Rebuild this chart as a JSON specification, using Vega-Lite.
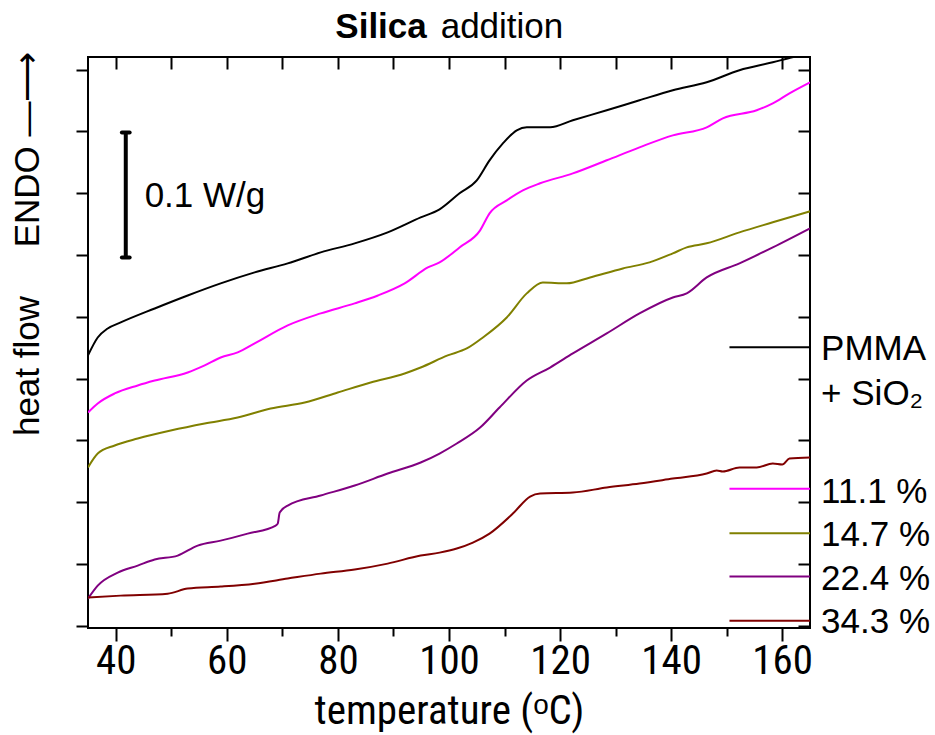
{
  "$schema": "https://vega.github.io/schema/vega-lite/v6.json",
  "autosize": "none",
  "width": 722,
  "height": 571,
  "padding": {"left": 88, "top": 57, "right": 125, "bottom": 107},
  "background": "white",
  "config": {"view": {"stroke": "black", "strokeWidth": 2}},
  "datasets": {
    "curves": [
      {"s": "PMMA", "T": 35.0, "hf": 0.2187}, {"s": "PMMA", "T": 36.75, "hf": 0.2332}, {"s": "PMMA", "T": 38.55, "hf": 0.2405}, {"s": "PMMA", "T": 40.89, "hf": 0.2454}, {"s": "PMMA", "T": 47.01, "hf": 0.2567}, {"s": "PMMA", "T": 52.95, "hf": 0.2672}, {"s": "PMMA", "T": 58.89, "hf": 0.2770}, {"s": "PMMA", "T": 65.01, "hf": 0.2859}, {"s": "PMMA", "T": 70.96, "hf": 0.2932}, {"s": "PMMA", "T": 76.9, "hf": 0.3021}, {"s": "PMMA", "T": 83.02, "hf": 0.3094}, {"s": "PMMA", "T": 88.96, "hf": 0.3183}, {"s": "PMMA", "T": 94.9, "hf": 0.3304}, {"s": "PMMA", "T": 98.3, "hf": 0.3369}, {"s": "PMMA", "T": 101.9, "hf": 0.3499}, {"s": "PMMA", "T": 105.0, "hf": 0.3604}, {"s": "PMMA", "T": 107.3, "hf": 0.3766}, {"s": "PMMA", "T": 109.7, "hf": 0.3903}, {"s": "PMMA", "T": 112.2, "hf": 0.4009}, {"s": "PMMA", "T": 114.0, "hf": 0.4033}, {"s": "PMMA", "T": 118.2, "hf": 0.4033}, {"s": "PMMA", "T": 122.3, "hf": 0.4090}, {"s": "PMMA", "T": 128.4, "hf": 0.4171}, {"s": "PMMA", "T": 134.3, "hf": 0.4252}, {"s": "PMMA", "T": 140.3, "hf": 0.4333}, {"s": "PMMA", "T": 146.4, "hf": 0.4397}, {"s": "PMMA", "T": 152.3, "hf": 0.4495}, {"s": "PMMA", "T": 158.3, "hf": 0.4559}, {"s": "PMMA", "T": 161.8, "hf": 0.4600}, {"s": "PMMA", "T": 165.0, "hf": 0.4632},
      {"s": "11.1 %", "T": 35.0, "hf": 0.1725}, {"s": "11.1 %", "T": 36.75, "hf": 0.1798}, {"s": "11.1 %", "T": 39.81, "hf": 0.1879}, {"s": "11.1 %", "T": 43.95, "hf": 0.1944}, {"s": "11.1 %", "T": 47.01, "hf": 0.1984}, {"s": "11.1 %", "T": 52.95, "hf": 0.2049}, {"s": "11.1 %", "T": 56.01, "hf": 0.2106}, {"s": "11.1 %", "T": 58.89, "hf": 0.2170}, {"s": "11.1 %", "T": 61.95, "hf": 0.2211}, {"s": "11.1 %", "T": 65.01, "hf": 0.2284}, {"s": "11.1 %", "T": 70.96, "hf": 0.2430}, {"s": "11.1 %", "T": 76.9, "hf": 0.2527}, {"s": "11.1 %", "T": 83.02, "hf": 0.2608}, {"s": "11.1 %", "T": 87.2, "hf": 0.2672}, {"s": "11.1 %", "T": 92.02, "hf": 0.2770}, {"s": "11.1 %", "T": 96.2, "hf": 0.2899}, {"s": "11.1 %", "T": 98.3, "hf": 0.2940}, {"s": "11.1 %", "T": 101.9, "hf": 0.3061}, {"s": "11.1 %", "T": 105.6, "hf": 0.3199}, {"s": "11.1 %", "T": 107.3, "hf": 0.3337}, {"s": "11.1 %", "T": 110.4, "hf": 0.3442}, {"s": "11.1 %", "T": 113.3, "hf": 0.3523}, {"s": "11.1 %", "T": 116.4, "hf": 0.3580}, {"s": "11.1 %", "T": 122.3, "hf": 0.3660}, {"s": "11.1 %", "T": 128.4, "hf": 0.3766}, {"s": "11.1 %", "T": 134.3, "hf": 0.3871}, {"s": "11.1 %", "T": 140.3, "hf": 0.3968}, {"s": "11.1 %", "T": 146.4, "hf": 0.4033}, {"s": "11.1 %", "T": 149.3, "hf": 0.4106}, {"s": "11.1 %", "T": 155.4, "hf": 0.4171}, {"s": "11.1 %", "T": 158.3, "hf": 0.4227}, {"s": "11.1 %", "T": 161.3, "hf": 0.4308}, {"s": "11.1 %", "T": 165.0, "hf": 0.4397},
      {"s": "14.7 %", "T": 35.0, "hf": 0.1280}, {"s": "14.7 %", "T": 36.75, "hf": 0.1393}, {"s": "14.7 %", "T": 39.81, "hf": 0.1458}, {"s": "14.7 %", "T": 43.95, "hf": 0.1514}, {"s": "14.7 %", "T": 49.89, "hf": 0.1579}, {"s": "14.7 %", "T": 56.01, "hf": 0.1636}, {"s": "14.7 %", "T": 61.95, "hf": 0.1684}, {"s": "14.7 %", "T": 67.89, "hf": 0.1757}, {"s": "14.7 %", "T": 74.02, "hf": 0.1806}, {"s": "14.7 %", "T": 79.96, "hf": 0.1887}, {"s": "14.7 %", "T": 85.9, "hf": 0.1968}, {"s": "14.7 %", "T": 92.02, "hf": 0.2041}, {"s": "14.7 %", "T": 94.9, "hf": 0.2089}, {"s": "14.7 %", "T": 99.76, "hf": 0.2187}, {"s": "14.7 %", "T": 103.2, "hf": 0.2243}, {"s": "14.7 %", "T": 106.1, "hf": 0.2332}, {"s": "14.7 %", "T": 110.4, "hf": 0.2494}, {"s": "14.7 %", "T": 114.0, "hf": 0.2689}, {"s": "14.7 %", "T": 116.9, "hf": 0.2778}, {"s": "14.7 %", "T": 121.2, "hf": 0.2770}, {"s": "14.7 %", "T": 125.4, "hf": 0.2818}, {"s": "14.7 %", "T": 131.3, "hf": 0.2891}, {"s": "14.7 %", "T": 136.1, "hf": 0.2940}, {"s": "14.7 %", "T": 140.3, "hf": 0.3013}, {"s": "14.7 %", "T": 142.8, "hf": 0.3061}, {"s": "14.7 %", "T": 146.4, "hf": 0.3094}, {"s": "14.7 %", "T": 152.3, "hf": 0.3183}, {"s": "14.7 %", "T": 158.3, "hf": 0.3264}, {"s": "14.7 %", "T": 165.0, "hf": 0.3353},
      {"s": "22.4 %", "T": 35.0, "hf": 0.0219}, {"s": "22.4 %", "T": 36.75, "hf": 0.0324}, {"s": "22.4 %", "T": 40.35, "hf": 0.0429}, {"s": "22.4 %", "T": 43.95, "hf": 0.0486}, {"s": "22.4 %", "T": 47.01, "hf": 0.0535}, {"s": "22.4 %", "T": 51.15, "hf": 0.0567}, {"s": "22.4 %", "T": 54.75, "hf": 0.0648}, {"s": "22.4 %", "T": 58.89, "hf": 0.0688}, {"s": "22.4 %", "T": 63.75, "hf": 0.0745}, {"s": "22.4 %", "T": 68.8, "hf": 0.0810}, {"s": "22.4 %", "T": 69.16, "hf": 0.0826}, {"s": "22.4 %", "T": 69.52, "hf": 0.0915}, {"s": "22.4 %", "T": 70.96, "hf": 0.0972}, {"s": "22.4 %", "T": 76.9, "hf": 0.1053}, {"s": "22.4 %", "T": 83.02, "hf": 0.1134}, {"s": "22.4 %", "T": 88.96, "hf": 0.1231}, {"s": "22.4 %", "T": 94.9, "hf": 0.1320}, {"s": "22.4 %", "T": 98.3, "hf": 0.1393}, {"s": "22.4 %", "T": 101.4, "hf": 0.1474}, {"s": "22.4 %", "T": 105.6, "hf": 0.1603}, {"s": "22.4 %", "T": 109.1, "hf": 0.1765}, {"s": "22.4 %", "T": 114.0, "hf": 0.1984}, {"s": "22.4 %", "T": 118.2, "hf": 0.2089}, {"s": "22.4 %", "T": 122.3, "hf": 0.2203}, {"s": "22.4 %", "T": 128.4, "hf": 0.2365}, {"s": "22.4 %", "T": 134.3, "hf": 0.2527}, {"s": "22.4 %", "T": 140.3, "hf": 0.2656}, {"s": "22.4 %", "T": 142.8, "hf": 0.2689}, {"s": "22.4 %", "T": 146.4, "hf": 0.2818}, {"s": "22.4 %", "T": 152.3, "hf": 0.2932}, {"s": "22.4 %", "T": 158.3, "hf": 0.3061}, {"s": "22.4 %", "T": 165.0, "hf": 0.3215},
      {"s": "34.3 %", "T": 35.0, "hf": 0.0227}, {"s": "34.3 %", "T": 40.89, "hf": 0.0243}, {"s": "34.3 %", "T": 49.35, "hf": 0.0259}, {"s": "34.3 %", "T": 52.95, "hf": 0.0300}, {"s": "34.3 %", "T": 58.89, "hf": 0.0316}, {"s": "34.3 %", "T": 65.01, "hf": 0.0340}, {"s": "34.3 %", "T": 70.96, "hf": 0.0381}, {"s": "34.3 %", "T": 76.9, "hf": 0.0421}, {"s": "34.3 %", "T": 83.02, "hf": 0.0454}, {"s": "34.3 %", "T": 88.96, "hf": 0.0502}, {"s": "34.3 %", "T": 94.9, "hf": 0.0567}, {"s": "34.3 %", "T": 98.3, "hf": 0.0591}, {"s": "34.3 %", "T": 101.4, "hf": 0.0624}, {"s": "34.3 %", "T": 104.3, "hf": 0.0672}, {"s": "34.3 %", "T": 107.3, "hf": 0.0745}, {"s": "34.3 %", "T": 111.5, "hf": 0.0907}, {"s": "34.3 %", "T": 114.6, "hf": 0.1045}, {"s": "34.3 %", "T": 116.4, "hf": 0.1069}, {"s": "34.3 %", "T": 122.3, "hf": 0.1077}, {"s": "34.3 %", "T": 128.4, "hf": 0.1118}, {"s": "34.3 %", "T": 134.3, "hf": 0.1150}, {"s": "34.3 %", "T": 140.3, "hf": 0.1190}, {"s": "34.3 %", "T": 146.4, "hf": 0.1231}, {"s": "34.3 %", "T": 148.2, "hf": 0.1255}, {"s": "34.3 %", "T": 149.3, "hf": 0.1247}, {"s": "34.3 %", "T": 152.3, "hf": 0.1280}, {"s": "34.3 %", "T": 155.4, "hf": 0.1280}, {"s": "34.3 %", "T": 158.3, "hf": 0.1312}, {"s": "34.3 %", "T": 160.0, "hf": 0.1304}, {"s": "34.3 %", "T": 161.3, "hf": 0.1352}, {"s": "34.3 %", "T": 165.0, "hf": 0.1361}
    ],
    "leg": [
      {"s": "PMMA", "T1": 150.5, "T2": 165, "hf": 0.2254},
      {"s": "11.1 %", "T1": 150.5, "T2": 165, "hf": 0.1107},
      {"s": "14.7 %", "T1": 150.5, "T2": 165, "hf": 0.0747},
      {"s": "22.4 %", "T1": 150.5, "T2": 165, "hf": 0.0397},
      {"s": "34.3 %", "T1": 150.5, "T2": 165, "hf": 0.0040}
    ],
    "labels": [
      {"label": "PMMA", "T": 167.0, "hf": 0.2150},
      {"label": "+ SiO₂", "T": 167.0, "hf": 0.1786},
      {"label": "11.1 %", "T": 167.0, "hf": 0.0992},
      {"label": "14.7 %", "T": 167.0, "hf": 0.0644},
      {"label": "22.4 %", "T": 167.0, "hf": 0.0287},
      {"label": "34.3 %", "T": 167.0, "hf": -0.0061},
      {"label": "0.1 W/g", "T": 45.2, "hf": 0.3385},
      {"label": "addition", "T": 98.5, "hf": 0.4754}
    ],
    "bold": [
      {"label": "Silica", "T": 96.0, "hf": 0.4754}
    ],
    "bar": [
      {"T": 41.8, "lo": 0.298, "hi": 0.399}
    ],
    "caps": [
      {"T1": 41.1, "T2": 42.5, "hf": 0.298},
      {"T1": 41.1, "T2": 42.5, "hf": 0.399}
    ]
  },
  "layer": [
    {
      "data": {"name": "curves"},
      "mark": {"type": "line", "strokeWidth": 2, "clip": true, "interpolate": "monotone"},
      "encoding": {
        "x": {"field": "T", "type": "quantitative", "scale": {"domain": [35, 165], "nice": false, "zero": false},
          "axis": {"orient": "bottom", "values": [40, 50, 60, 70, 80, 90, 100, 110, 120, 130, 140, 150, 160],
            "tickSize": {"condition": {"test": "datum.value % 20 === 0", "value": 13}, "value": 8},
            "labelExpr": "datum.value % 20 === 0 ? datum.label : ''",
            "tickColor": "black", "tickWidth": 2, "domain": false, "grid": false,
            "labelFont": "Roboto Condensed, Liberation Sans", "labelFontSize": 41, "labelColor": "black", "labelPadding": 0, "labelFlush": false, "labelOverlap": false,
            "title": "temperature (ᵒC)", "titleFont": "Roboto Condensed, Liberation Sans", "titleFontSize": 41, "titleFontWeight": "normal", "titleColor": "black", "titlePadding": 10}},
        "y": {"field": "hf", "type": "quantitative", "scale": {"domain": [-0.0019, 0.4602], "nice": false, "zero": false},
          "axis": {"orient": "left", "values": [0, 0.05, 0.1, 0.15, 0.2, 0.25, 0.3, 0.35, 0.4, 0.45],
            "tickSize": 12, "tickColor": "black", "tickWidth": 2, "labels": false, "domain": false, "grid": false,
            "title": "heat flow\u00a0\u00a0\u00a0\u00a0\u00a0ENDO\u00a0—⟶", "titleFont": "Liberation Sans", "titleFontSize": 35, "titleFontWeight": "normal", "titleColor": "black",
            "titleAnchor": "end", "titleY": -6, "titlePadding": 30}},
        "color": {"field": "s", "type": "nominal", "legend": null,
          "scale": {"domain": ["PMMA", "11.1 %", "14.7 %", "22.4 %", "34.3 %"], "range": ["#000000", "#FF00FF", "#808000", "#800080", "#800000"]}}
      }
    },
    {
      "data": {"name": "leg"},
      "mark": {"type": "rule", "strokeWidth": 2},
      "encoding": {
        "x": {"field": "T1", "type": "quantitative",
          "axis": {"orient": "top", "values": [40, 50, 60, 70, 80, 90, 100, 110, 120, 130, 140, 150, 160],
            "tickSize": -12, "tickColor": "black", "tickWidth": 2, "labels": false, "domain": false, "grid": false, "title": null}},
        "x2": {"field": "T2"},
        "y": {"field": "hf", "type": "quantitative",
          "axis": {"orient": "right", "values": [0, 0.05, 0.1, 0.15, 0.2, 0.25, 0.3, 0.35, 0.4, 0.45],
            "tickSize": -12, "tickColor": "black", "tickWidth": 2, "labels": false, "domain": false, "grid": false, "title": null}},
        "color": {"field": "s", "type": "nominal", "legend": null}
      }
    },
    {
      "data": {"name": "bar"},
      "mark": {"type": "rule", "strokeWidth": 4, "color": "black"},
      "encoding": {
        "x": {"field": "T", "type": "quantitative", "axis": null},
        "y": {"field": "lo", "type": "quantitative", "axis": null},
        "y2": {"field": "hi"}
      }
    },
    {
      "data": {"name": "caps"},
      "mark": {"type": "rule", "strokeWidth": 4, "color": "black", "strokeCap": "round"},
      "encoding": {
        "x": {"field": "T1", "type": "quantitative", "axis": null},
        "x2": {"field": "T2"},
        "y": {"field": "hf", "type": "quantitative", "axis": null}
      }
    },
    {
      "data": {"name": "labels"},
      "mark": {"type": "text", "align": "left", "baseline": "alphabetic", "font": "Liberation Sans", "fontSize": 35, "color": "black"},
      "encoding": {
        "x": {"field": "T", "type": "quantitative", "axis": null},
        "y": {"field": "hf", "type": "quantitative", "axis": null},
        "text": {"field": "label"}
      }
    },
    {
      "data": {"name": "bold"},
      "mark": {"type": "text", "align": "right", "baseline": "alphabetic", "font": "Liberation Sans", "fontSize": 35, "fontWeight": "bold", "color": "black"},
      "encoding": {
        "x": {"field": "T", "type": "quantitative", "axis": null},
        "y": {"field": "hf", "type": "quantitative", "axis": null},
        "text": {"field": "label"}
      }
    }
  ],
  "resolve": {"axis": {"x": "independent", "y": "independent"}}
}
